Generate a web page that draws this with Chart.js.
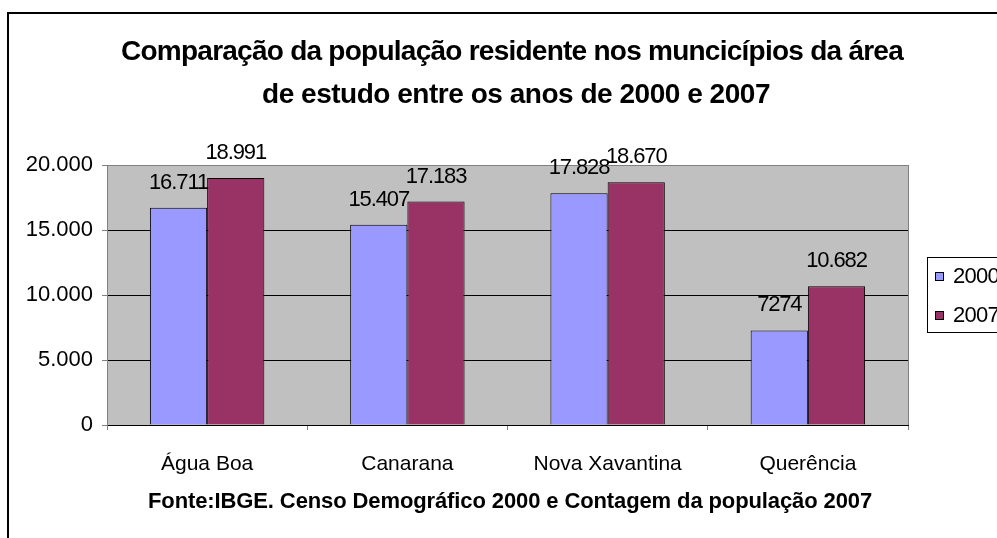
<!DOCTYPE html>
<html>
<head>
<meta charset="utf-8">
<script src="https://cdn.jsdelivr.net/npm/chart.js@4/dist/chart.umd.min.js"></script>
<style>
  html, body { margin: 0; padding: 0; background: #fff; }
  canvas { display: block; }
</style>
</head>
<body>
<canvas id="popChart" width="997" height="538"></canvas>
<script>
const categories = ['Água Boa', 'Canarana', 'Nova Xavantina', 'Querência'];
const pop2000 = [16711, 15407, 17828, 7274];
const pop2007 = [18991, 17183, 18670, 10682];
const seriesNames = ['2000', '2007'];
const yTicks = [0, 5000, 10000, 15000, 20000];
// the Querência 2000 label shows no thousands separator in the original
const plainLabel2000 = [false, false, false, true];

const titleLines = [
    'Comparação da população residente nos muncicípios da área',
    'de estudo entre os anos de 2000 e 2007'
];
const footerText = 'Fonte:IBGE. Censo Demográfico 2000 e Contagem da população 2007';

const FONT = '"Liberation Sans", Arial, sans-serif';

const fmt = v => {
    const s = String(Math.round(v));
    return s.replace(/\B(?=(\d{3})+(?!\d))/g, '.');
};

// draw text squeezed to a given width (Excel renders tighter than the canvas)
const fitText = (ctx, text, cx, y, width) => {
    const w = ctx.measureText(text).width;
    if ('letterSpacing' in ctx && w > width) {
        ctx.letterSpacing = ((width - w) / text.length) + 'px';
        ctx.fillText(text, cx, y);
        ctx.letterSpacing = '0px';
    } else {
        ctx.fillText(text, cx, y, width);
    }
};

const decorPlugin = {
    id: 'decor',
    beforeDraw(chart) {
        const { ctx, chartArea: a } = chart;
        ctx.save();
        ctx.fillStyle = '#fff';
        ctx.fillRect(0, 0, chart.width, chart.height);
        ctx.fillStyle = '#c0c0c0';
        ctx.fillRect(a.left, a.top, a.right - a.left, a.bottom - a.top);
        ctx.restore();
    },
    afterDraw(chart) {
        const { ctx, chartArea: a } = chart;
        ctx.save();
        // outer frame (cut off on right and bottom)
        ctx.strokeStyle = '#000';
        ctx.lineWidth = 2;
        ctx.strokeRect(8, 13, 1200, 1200);

        // right edge of plot area
        ctx.lineWidth = 1;
        ctx.strokeStyle = '#808080';
        ctx.beginPath();
        ctx.moveTo(Math.round(a.right) + 0.5, a.top);
        ctx.lineTo(Math.round(a.right) + 0.5, a.bottom);
        ctx.stroke();

        // title
        ctx.fillStyle = '#000';
        ctx.textAlign = 'center';
        ctx.textBaseline = 'alphabetic';
        ctx.font = 'bold 28px ' + FONT;
        fitText(ctx, titleLines[0], 512, 60, 782);
        fitText(ctx, titleLines[1], 516, 103, 508);

        // footer
        ctx.font = 'bold 22px ' + FONT;
        fitText(ctx, footerText, 510, 508, 724);

        // legend
        ctx.strokeStyle = '#000';
        ctx.strokeRect(927.5, 257.5, 200, 75);
        ctx.font = '22px ' + FONT;
        ctx.textAlign = 'left';
        ctx.textBaseline = 'middle';
        chart.data.datasets.forEach((ds, i) => {
            const y = 272 + i * 39;
            ctx.fillStyle = ds.backgroundColor;
            ctx.fillRect(935, y, 9, 9);
            ctx.strokeRect(935.5, y + 0.5, 8, 8);
            ctx.fillStyle = '#000';
            fitText(ctx, ds.label, 953, y + 5, 46);
        });
        ctx.restore();
    },
    afterDatasetsDraw(chart) {
        const { ctx } = chart;
        ctx.save();
        ctx.fillStyle = '#000';
        ctx.font = '22px ' + FONT;
        ctx.textAlign = 'center';
        ctx.textBaseline = 'alphabetic';
        chart.data.datasets.forEach((ds, di) => {
            chart.getDatasetMeta(di).data.forEach((bar, i) => {
                const v = ds.data[i];
                const txt = (di === 0 && plainLabel2000[i]) ? String(v) : fmt(v);
                fitText(ctx, txt, bar.x, bar.y - 19, ctx.measureText(txt).width * 0.9);
            });
        });
        ctx.restore();
    }
};

new Chart(document.getElementById('popChart'), {
    type: 'bar',
    data: {
        labels: categories,
        datasets: [
            { label: seriesNames[0], data: pop2000, backgroundColor: '#9999ff', borderColor: '#000', borderWidth: 1 },
            { label: seriesNames[1], data: pop2007, backgroundColor: '#993366', borderColor: '#000', borderWidth: 1 }
        ]
    },
    options: {
        responsive: false,
        animation: false,
        devicePixelRatio: 1,
        layout: { padding: { top: 165, right: 89, bottom: 0, left: 0 } },
        datasets: {
            bar: { categoryPercentage: 2 / 3.5, barPercentage: 1 }
        },
        plugins: {
            legend: { display: false },
            title: { display: false },
            tooltip: { enabled: false }
        },
        scales: {
            x: {
                afterFit: s => { s.height = 113; },
                grid: {
                    offset: true,
                    drawOnChartArea: false,
                    tickLength: 5,
                    tickColor: '#808080'
                },
                border: { color: '#000' },
                ticks: {
                    color: '#000',
                    font: { family: FONT, size: 21 },
                    padding: 22,
                    autoSkip: false,
                    maxRotation: 0
                }
            },
            y: {
                min: 0,
                max: 20000,
                afterFit: s => { s.width = 107; },
                afterBuildTicks: s => { s.ticks = yTicks.map(v => ({ value: v })); },
                grid: {
                    color: c => (c.tick && c.tick.value === 20000) ? '#808080' : '#000',
                    tickColor: '#808080',
                    tickLength: 5
                },
                border: { color: '#808080' },
                ticks: {
                    color: '#000',
                    font: { family: FONT, size: 22 },
                    padding: 9,
                    callback: v => fmt(v)
                }
            }
        }
    },
    plugins: [decorPlugin]
});
</script>
</body>
</html>
